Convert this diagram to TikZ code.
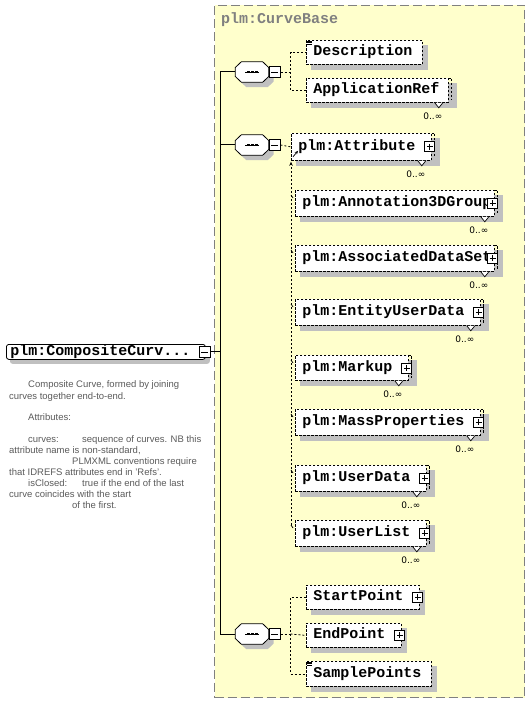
\documentclass[tikz,border=0pt]{standalone}
\usepackage{fontspec}
\setmainfont{Liberation Sans}
\newfontfamily\elemmono{Liberation Mono}
\newfontfamily\symsans{DejaVu Sans}
\usetikzlibrary{arrows.meta}
\pgfdeclarelayer{bg}
\pgfdeclarelayer{shadow}
\pgfsetlayers{bg,shadow,main}
\definecolor{panelfill}{RGB}{255,255,204}
\definecolor{shadowgray}{RGB}{192,192,192}
\definecolor{titlegray}{RGB}{128,128,128}
\definecolor{notegray}{RGB}{90,90,90}
% shadow of a rectangular node
\newcommand{\shadowof}[2]{\begin{pgfonlayer}{shadow}\fill[shadowgray] ([shift={(#2,-#2)}]#1.north west) rectangle ([shift={(#2,-#2)}]#1.south east);\end{pgfonlayer}}
\newcommand{\shadowmulti}[1]{\begin{pgfonlayer}{shadow}\fill[shadowgray] ([shift={(5pt,-5pt)}]#1.north west) rectangle ([shift={(8pt,-5pt)}]#1.south east);\end{pgfonlayer}}
% stacked (repeated) element: visible corner of the box behind
\newcommand{\backstub}[1]{\draw[line width=0.8pt,dash pattern=on 2.5pt off 1.5pt] (#1.north east) -- ++(3,0) -- ([shift={(3pt,3pt)}]#1.south east);}
\newcommand{\multnotch}[1]{%
  \filldraw[fill=white,line width=0.7pt,solid] ([xshift=-14pt]#1.south east) -- ++(4,5) -- ++(4,-5);
  \node[mult] (#1-m) at ([xshift=-16pt,yshift=-13pt]#1.south east) {0..∞};}
\newcommand{\plusat}[1]{\node[plusbox] (#1-p) at ([xshift=-2pt]#1.east) {};}
\newcommand{\simpleicon}[1]{\draw[line width=0.6pt,solid] ([shift={(0.5pt,-1pt)}]#1.north west) -- ++(5,0) ([shift={(0.5pt,-2.7pt)}]#1.north west) -- ++(5,0) ([shift={(0.5pt,-4.4pt)}]#1.north west) -- ++(5,0);}
\newcommand{\octa}[2]{\path[#1] ([yshift=4.5pt]#2.west) -- ([xshift=6pt]#2.north west) -- ([xshift=-6pt]#2.north east) -- ([yshift=4.5pt]#2.east) -- ([yshift=-4.5pt]#2.east) -- ([xshift=-6pt]#2.south east) -- ([xshift=6pt]#2.south west) -- ([yshift=-4.5pt]#2.west) -- cycle;}
\newcommand{\compositor}[2]{%
  \node[compbase] (#1) at (#2) {};
  \node[compbase] (#1s) at ([shift={(5pt,-5pt)}]#1.center) {};
  \begin{pgfonlayer}{shadow}\octa{fill=shadowgray}{#1s}\end{pgfonlayer}
  \octa{draw,fill=white,line width=0.8pt}{#1}
  \draw[line width=0.8pt] ([xshift=-7pt]#1.center) -- ([xshift=7pt]#1.center);
  \foreach \d in {-4,0,4} \fill ([shift={(\d pt-1.5pt,-1.3pt)}]#1.center) rectangle ++(3,-2.6);
  \node[minusbox] (#1m) at (#1.east) {};}
\begin{document}
\begin{tikzpicture}[x=1pt,y=-1pt,
  efont/.style={font=\fontsize{15}{15}\selectfont\elemmono\bfseries},
  elem/.style={draw,line width=0.8pt,dash pattern=on 2.5pt off 1.5pt,fill=white,anchor=north west,
    inner xsep=7pt,inner ysep=0pt,minimum height=24pt,text height=10pt,text depth=3pt,efont},
  multi/.style={elem},
  plusbox/.style={draw,solid,fill=white,minimum size=10pt,inner sep=0pt,line width=0.8pt,
    path picture={\draw[line width=0.8pt] ([xshift=2pt]path picture bounding box.west) -- ([xshift=-2pt]path picture bounding box.east)
      ([yshift=-2pt]path picture bounding box.north) -- ([yshift=2pt]path picture bounding box.south);}},
  minusbox/.style={draw,solid,fill=white,minimum size=11pt,inner sep=0pt,line width=0.8pt,anchor=west,
    path picture={\draw[line width=0.8pt] ([xshift=2pt]path picture bounding box.west) -- ([xshift=-2pt]path picture bounding box.east);}},
  compbase/.style={rectangle,minimum width=33pt,minimum height=20pt,inner sep=0pt},
  rootbox/.style={draw,solid,line width=0.8pt,fill=white,rounded corners=2.5pt,anchor=north west,
    inner xsep=4pt,inner ysep=0pt,minimum height=15pt,text height=10pt,text depth=3pt,efont},
  mult/.style={font=\fontsize{9}{9}\selectfont\symsans,inner sep=0pt},
  conn/.style={line width=0.8pt,dash pattern=on 2pt off 2pt},
  trunk/.style={line width=1pt},
  note/.style={font=\fontsize{9.5}{11}\selectfont,text=notegray,align=left,anchor=north west,inner sep=0pt}
]
\useasboundingbox (0,0) rectangle (530,703);
% panel
\begin{pgfonlayer}{bg}
\node[draw=titlegray,line width=1pt,dash pattern=on 9pt off 4pt,fill=panelfill,anchor=north west,
  minimum width=310pt,minimum height=692pt,inner sep=0pt] (panel) at (214,5) {};
\end{pgfonlayer}
\node[efont,text=titlegray,anchor=west,inner sep=0pt] (title) at (221,20) {plm:CurveBase};

% root
\node[rootbox] (root) at (6,344) {\makebox[191pt][l]{plm:CompositeCurv...}};
\begin{pgfonlayer}{shadow}\fill[shadowgray,rounded corners=2.5pt] ([shift={(4pt,-4pt)}]root.north west) rectangle ([shift={(4pt,-4pt)}]root.south east);\end{pgfonlayer}
\node[minusbox,anchor=center] (rootm) at ([xshift=-1pt]root.east) {};
\node[note] (note) at (9,380.5) {\hspace*{19pt}Composite Curve, formed by joining\\[1pt]
curves together end-to-end.\\[10pt]
\hspace*{19pt}Attributes:\\[11pt]
\hspace*{19pt}\makebox[54pt][l]{curves:}sequence of curves. NB this\\
attribute name is non-standard,\\
\hspace*{63pt}PLMXML conventions require\\
that IDREFS attributes end in 'Refs'.\\
\hspace*{19pt}\makebox[54pt][l]{isClosed:}true if the end of the last\\
curve coincides with the start\\
\hspace*{63pt}of the first.};

% compositors
\compositor{c1}{252,72}
\compositor{c2}{252,145}
\compositor{c3}{252,634}

% group 1
\node[elem] (desc) at (306,40) {\makebox[102pt][l]{Description}};
\shadowof{desc}{5pt}\simpleicon{desc}
\node[multi] (appref) at (306,78) {\makebox[128pt][l]{ApplicationRef}};
\shadowmulti{appref}\backstub{appref}\multnotch{appref}

% group 2
\node[multi,minimum height=27pt] (attr) at (291,133) {\makebox[126pt][l]{plm:Attribute}};
\node[multi,minimum height=26pt] (ann) at (295,190) {\makebox[185pt][l]{plm:Annotation3DGroup}};
\node[multi,minimum height=26pt] (assoc) at (295,245) {\makebox[185pt][l]{plm:AssociatedDataSet}};
\node[multi,minimum height=26pt] (ent) at (295,299) {\makebox[171pt][l]{plm:EntityUserData}};
\node[multi,minimum height=25pt] (markup) at (295,355) {\makebox[99pt][l]{plm:Markup}};
\node[multi,minimum height=26pt] (mass) at (295,409) {\makebox[171pt][l]{plm:MassProperties}};
\node[multi,minimum height=26pt] (udata) at (295,465) {\makebox[117pt][l]{plm:UserData}};
\node[multi,minimum height=26pt] (ulist) at (295,520) {\makebox[117pt][l]{plm:UserList}};
\foreach \n in {attr,ann,assoc,ent,markup,mass,udata,ulist}{
  \shadowmulti{\n}\backstub{\n}\plusat{\n}\multnotch{\n}}

% group 3
\node[elem] (start) at (306,585) {\makebox[99pt][l]{StartPoint}};
\shadowof{start}{5pt}\plusat{start}
\node[elem] (endp) at (306,623) {\makebox[81pt][l]{EndPoint}};
\shadowof{endp}{5pt}\plusat{endp}
\node[elem,minimum height=25pt] (samp) at (306,661) {\makebox[111pt][l]{SamplePoints}};
\shadowof{samp}{5pt}\simpleicon{samp}

% trunk lines
\draw[trunk] (c1.west) -- ++(-15,0) coordinate (tk) |- (c3.west);
\draw[trunk] (c2.west) -- (c2.west -| tk);
\draw[trunk] (rootm.east) -- (rootm.east -| tk);

% dashed connectors group 1
\draw[conn] (c1m.east) -- ++(10,0) coordinate (j1) |- (desc.west);
\draw[conn] (j1) |- (appref.west);
% group 3
\draw[conn] (c3m.east) -- ++(10,0) coordinate (j3) |- (start.west);
\draw[conn] (j3) |- (samp.west);
\draw[conn] (j3) -- (endp.west);
% group 2 (substitution group)
\draw[conn] (c2m.east) -- (attr.west);
\draw[conn,-{Stealth[length=4pt,width=3.5pt]}] ([shift={(-4pt,-5pt)}]ulist.north west) -- ([yshift=-1pt]attr.south west);
\draw[line width=0.7pt,-{Stealth[length=3.5pt,width=3pt]}] ([shift={(2pt,4pt)}]attr.south west) -- ++(5,-6);
\foreach \n in {ann,assoc,ent,markup,mass,udata,ulist}
  \draw[line width=0.7pt] ([shift={(-4pt,-5pt)}]\n.north west) -- ++(2,3);
\end{tikzpicture}
\end{document}
